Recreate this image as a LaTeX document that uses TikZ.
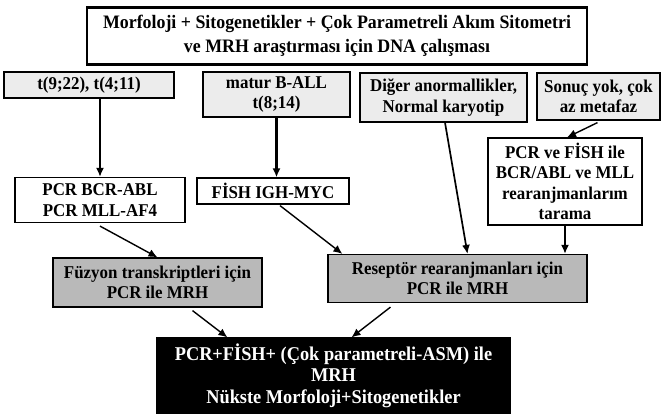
\documentclass[tikz,border=0pt]{standalone}
\usepackage{fontspec}
\setmainfont[FakeStretch=0.94]{Liberation Serif}
\usetikzlibrary{arrows.meta}

\tikzset{
  box/.style={draw, line width=1.2pt, fill=white, align=center, inner sep=0pt,
    font=\fontsize{18}{20.5}\selectfont\bfseries},
  lightbox/.style={box, fill=gray!15},
  darkbox/.style={box, fill=gray!55},
  blackbox/.style={box, fill=black, text=white},
  arr/.style={draw, line width=1.4pt, -{Latex[length=9pt,width=8pt]}},
  thickarr/.style={arr, line width=2.4pt}
}

\begin{document}
\begin{tikzpicture}[x=1pt,y=-1pt]
    \useasboundingbox (0,0) rectangle (665,417);

    \node[box, line width=2.5pt, minimum width=500pt, minimum height=57pt,
      font=\fontsize{19}{24}\selectfont\bfseries] (top) at (337,36)
      {Morfoloji + Sitogenetikler + Çok Parametreli Akım Sitometri\\ ve MRH araştırması için DNA çalışması};

    \node[lightbox, minimum width=170pt, minimum height=26pt] (n1) at (89,85) {t(9;22), t(4;11)};
    \node[lightbox, minimum width=147pt, minimum height=45pt] (n2) at (276.5,94.5) {matur B-ALL\\ t(8;14)};
    \node[lightbox, minimum width=167pt, minimum height=49pt] (n3) at (443.5,97.5) {Diğer anormallikler,\\ Normal karyotip};
    \node[lightbox, minimum width=123pt, minimum height=47pt] (n4) at (598.5,96.5) {Sonuç yok, çok\\ az metafaz};

    \node[box, minimum width=170pt, minimum height=45pt] (n5) at (100,200) {PCR BCR-ABL\\ PCR MLL-AF4};
    \node[box, minimum width=152pt, minimum height=26pt] (n6) at (273,191) {FİSH IGH-MYC};
    \node[box, minimum width=154pt, minimum height=87pt] (n7) at (565,181.5)
      {PCR ve FİSH ile\\ BCR/ABL ve MLL\\ rearanjmanlarım\\ tarama};

    \node[darkbox, minimum width=209pt, minimum height=49pt] (n8) at (157.5,282.5) {Füzyon transkriptleri için\\ PCR ile MRH};
    \node[darkbox, minimum width=259pt, minimum height=48pt] (n9) at (457.5,278.5) {Reseptör rearanjmanları için\\ PCR ile MRH};

    \node[blackbox, minimum width=353pt, minimum height=75pt,
      font=\fontsize{19.5}{21.5}\selectfont\bfseries] (n10) at (333.5,375.5)
      {PCR+FİSH+ (Çok parametreli-ASM) ile\\ MRH\\ Nükste Morfoloji+Sitogenetikler};

    \path[thickarr] (n1.south -| n5.north) -- (n5.north);
    \path[thickarr] (n2.south) -- (n2.south |- n6.north);
    \path[arr, line width=1.7pt] ([xshift=1.5pt]n3.south) -- ([xshift=10pt]n9.north);
    \path[arr] ([xshift=-1pt,yshift=-2pt]n4.south) -- ([xshift=2pt]n7.north);
    \path[thickarr] (n7.south) -- (n7.south |- n9.north);

    \path[arr] ([yshift=-3pt]n5.south) -- (n8.north);
    \path[arr] ([xshift=7pt,yshift=-1pt]n6.south) -- ([xshift=15pt]n9.north west);

    \path[arr] ([xshift=35pt,yshift=-3pt]n8.south) -- ([xshift=71pt]n10.north west);
    \path[arr] ([xshift=-67pt,yshift=-4pt]n9.south) -- ([xshift=18pt]n10.north);
\end{tikzpicture}
\end{document}
